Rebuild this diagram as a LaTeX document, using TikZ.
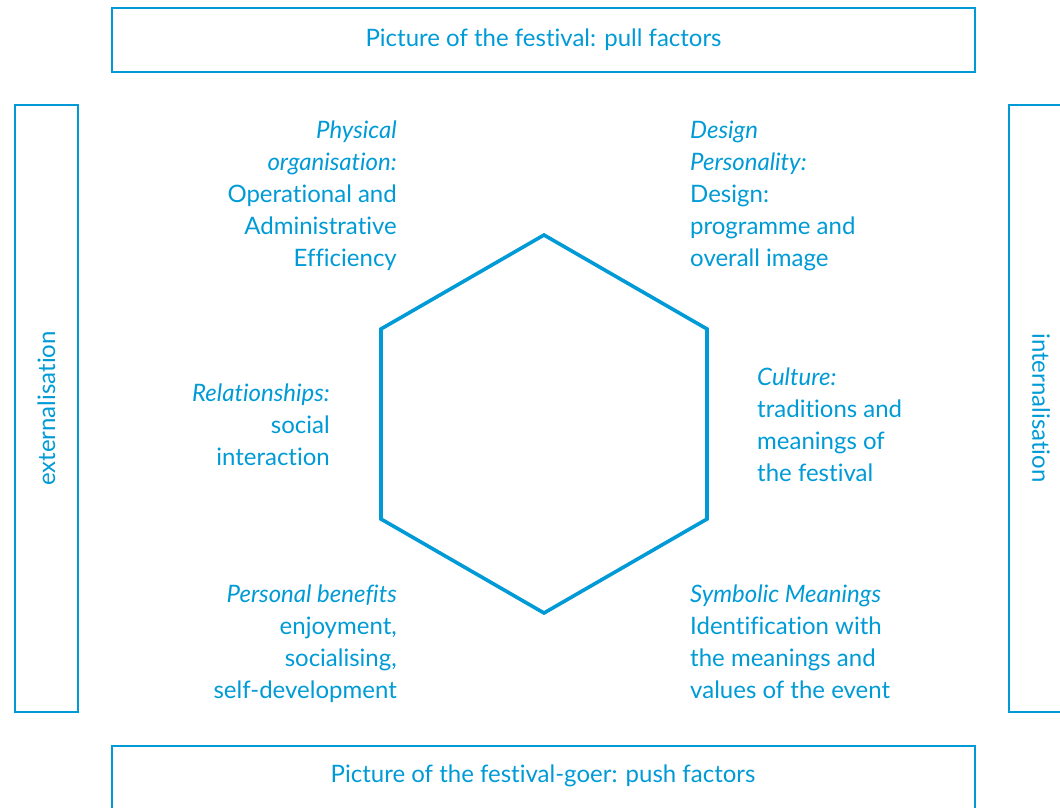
\documentclass[tikz,border=0pt]{standalone}
\usepackage{fontspec}
\setmainfont{Lato}[Ligatures=NoCommon]
\usepackage{xcolor}
\usepackage{tikz}

\definecolor{festblue}{RGB}{0,155,214}

\begin{document}
\begin{tikzpicture}[x=1pt,y=-1pt,
    box/.style={draw=festblue, line width=1.6pt},
    txt/.style={text=festblue, inner sep=0pt, font=\fontsize{24}{32}\selectfont}]
        \useasboundingbox (0,0) rectangle (1060,808);

        % pull and push factors
        \draw[box] (112,8) rectangle (975,72) node[midway, txt] (pull) {Picture of the festival: pull factors};
        \draw[box] (112,746) rectangle (975,840) coordinate (pushbox);
        \node[txt] (push) at (543,776) {Picture of the festival-goer: push factors};

        % externalisation and internalisation
        \draw[box] (15,105) rectangle (78,712) node[midway, txt, rotate=90] (ext) {externalisation};
        \draw[box] (1009,105) rectangle (1090,712);
        \node[txt, rotate=-90] (int) at (1041,408) {internalisation};

        % hexagon
        \draw[festblue, line width=3.6pt, line join=miter]
            (544,235) -- (707,329) -- (707,519) -- (544,613) -- (381,519) -- (381,329) -- cycle;

        \node[txt, anchor=north east, align=right] (phys) at (397,121)
            {\textit{Physical}\\ \textit{organisation:}\\ Operational and\\ Administrative\\ Efficiency};
        \node[txt, anchor=north west, align=left] (design) at (690,121)
            {\textit{Design}\\ \textit{Personality:}\\ Design:\\ programme and\\ overall image};
        \node[txt, anchor=north east, align=right] (rel) at (330,384)
            {\textit{Relationships:}\\ social\\ interaction};
        \node[txt, anchor=north west, align=left] (cult) at (757,368)
            {\textit{Culture:}\\ traditions and\\ meanings of\\ the festival};
        \node[txt, anchor=north east, align=right] (pers) at (397,585)
            {\textit{Personal benefits}\\ enjoyment,\\ socialising,\\ self-development};
        \node[txt, anchor=north west, align=left] (symb) at (690,585)
            {\textit{Symbolic Meanings}\\ Identification with\\ the meanings and\\ values of the event};
    \end{tikzpicture}
\end{document}
